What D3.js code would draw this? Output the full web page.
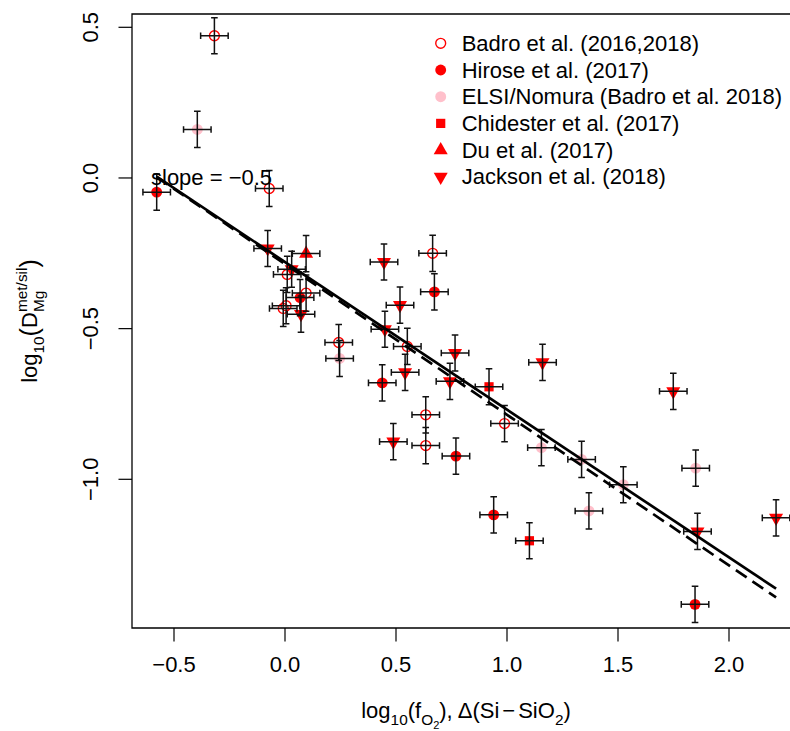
<!DOCTYPE html>
<html>
<head>
<meta charset="utf-8">
<script src="https://cdn.jsdelivr.net/npm/d3@7"></script>
<style>
body{margin:0;background:#fff;}
svg{display:block;}
text{font-family:"Liberation Sans",Arial,Helvetica,sans-serif;fill:#000;}
</style>
</head>
<body>
<div id="chart"></div>
<script>
// values (log10 fO2 / delta IW, log10 D_Mg)
var badroX = [-0.318, -0.071, 0.010, 0.095, 0.005, -0.008, 0.242, 0.665, 0.551, 0.634, 0.989, 0.634];
var badroY = [0.472, -0.035, -0.320, -0.382, -0.424, -0.433, -0.546, -0.250, -0.559, -0.786, -0.815, -0.888];
var hiroseX = [-0.578, 0.068, 0.673, 0.438, 0.770, 0.940, 1.847];
var hiroseY = [-0.047, -0.397, -0.378, -0.680, -0.923, -1.118, -1.415];
var elsiX = [-0.395, 0.246, 1.155, 1.336, 1.369, 1.524, 1.850];
var elsiY = [0.161, -0.599, -0.895, -0.934, -1.105, -1.018, -0.963];
var chidX = [0.919, 1.101];
var chidY = [-0.693, -1.204];
var duX = [0.095];
var duY = [-0.251];
var jacksonX = [-0.078, 0.030, 0.072, 0.446, 0.518, 0.450, 0.766, 0.541, 0.743, 1.160, 0.488, 1.749, 1.858, 2.212];
var jacksonY = [-0.234, -0.303, -0.452, -0.279, -0.422, -0.502, -0.581, -0.645, -0.675, -0.612, -0.875, -0.708, -1.173, -1.128];

var errX = 0.062, errY = 0.06;

// fitted line (solid) and fixed slope line (dashed)
var fitLine = {a: -0.279, b: -0.49};
var fixedLine = {a: -0.286, b: -0.5};

var xTicks = [-0.5, 0.0, 0.5, 1.0, 1.5, 2.0];
var yTicks = [0.5, 0.0, -0.5, -1.0];

var legendLabels = ["Badro et al. (2016,2018)", "Hirose et al. (2017)", "ELSI/Nomura (Badro et al. 2018)",
                    "Chidester et al. (2017)", "Du et al. (2017)", "Jackson et al. (2018)"];

var width = 790, height = 731;
var box = {left:132, top:14, bottom:628, right:800};
var fs = 22;
var sz = 5.2; // symbol base size

var svg = d3.select("#chart").append("svg").attr("width",width).attr("height",height);

var x = d3.scaleLinear().domain([-0.5, 2.0]).range([174, 729]);
var y = d3.scaleLinear().domain([0.5, -1.0]).range([27.3, 479.3]);

function fmt(v){ return d3.format(".1f")(v).replace("-", "\u2212"); }

// symbol paths (R style pch shapes)
function triUp(s){
    var r = 1.555*s, xc = 1.347*s, yc = 0.778*s;
    return "M0,"+(-r)+"L"+xc+","+yc+"L"+(-xc)+","+yc+"Z";
}
function triDown(s){
    var r = 1.555*s, xc = 1.347*s, yc = 0.778*s;
    return "M0,"+r+"L"+xc+","+(-yc)+"L"+(-xc)+","+(-yc)+"Z";
}
function drawSym(g, type, cx, cy){
    if(type=="open"){
        g.append("circle").attr("cx",cx).attr("cy",cy).attr("r",sz*0.95).attr("fill","none").attr("stroke","red").attr("stroke-width",1.4);
    } else if(type=="filled"){
        g.append("circle").attr("cx",cx).attr("cy",cy).attr("r",sz*1.05).attr("fill","red");
    } else if(type=="pink"){
        g.append("circle").attr("cx",cx).attr("cy",cy).attr("r",sz*1.05).attr("fill","pink");
    } else if(type=="square"){
        var h = 0.886*sz;
        g.append("rect").attr("x",cx-h).attr("y",cy-h).attr("width",2*h).attr("height",2*h).attr("fill","red");
    } else if(type=="up"){
        g.append("path").attr("d",triUp(sz)).attr("transform","translate("+cx+","+cy+")").attr("fill","red");
    } else if(type=="down"){
        g.append("path").attr("d",triDown(sz)).attr("transform","translate("+cx+","+cy+")").attr("fill","red");
    }
}

var series = [
    {xs:badroX, ys:badroY, type:"open"},
    {xs:hiroseX, ys:hiroseY, type:"filled"},
    {xs:elsiX, ys:elsiY, type:"pink"},
    {xs:chidX, ys:chidY, type:"square"},
    {xs:duX, ys:duY, type:"up"},
    {xs:jacksonX, ys:jacksonY, type:"down"}
];

// frame
svg.append("path")
    .attr("d","M"+box.right+","+box.top+"H"+box.left+"V"+box.bottom+"H"+box.right)
    .attr("fill","none").attr("stroke","#000").attr("stroke-width",1.3);

// x axis
var xa = svg.append("g").attr("class","x-axis");
xTicks.forEach(function(t){
    xa.append("line").attr("x1",x(t)).attr("x2",x(t)).attr("y1",box.bottom).attr("y2",box.bottom+13.5)
        .attr("stroke","#000").attr("stroke-width",1.2);
    xa.append("text").attr("x",x(t)).attr("y",672).attr("text-anchor","middle").attr("font-size",fs).text(fmt(t));
});
// y axis
var ya = svg.append("g").attr("class","y-axis");
yTicks.forEach(function(t){
    ya.append("line").attr("x1",box.left).attr("x2",box.left-13.5).attr("y1",y(t)).attr("y2",y(t))
        .attr("stroke","#000").attr("stroke-width",1.2);
    ya.append("text").attr("transform","translate(98,"+y(t)+") rotate(-90)").attr("text-anchor","middle")
        .attr("font-size",fs).text(fmt(t));
});

// points
var pts = svg.append("g").attr("class","points");
series.forEach(function(s){
    s.xs.forEach(function(v,i){ drawSym(pts, s.type, x(v), y(s.ys[i])); });
});

// error bars
var eb = svg.append("g").attr("class","errbars").attr("stroke","#111").attr("stroke-width",1.5).attr("fill","none");
var cap = 3.3;
series.forEach(function(s){
    s.xs.forEach(function(v,i){
        var cx = x(v), cy = y(s.ys[i]);
        var x0 = x(v-errX), x1 = x(v+errX), y0 = y(s.ys[i]+errY), y1 = y(s.ys[i]-errY);
        eb.append("path").attr("d",
            "M"+x0+","+cy+"H"+x1+
            "M"+x0+","+(cy-cap)+"V"+(cy+cap)+
            "M"+x1+","+(cy-cap)+"V"+(cy+cap)+
            "M"+cx+","+y0+"V"+y1+
            "M"+(cx-cap)+","+y0+"H"+(cx+cap)+
            "M"+(cx-cap)+","+y1+"H"+(cx+cap));
    });
});

// regression lines over the data range
var allX = [].concat(badroX, hiroseX, elsiX, chidX, duX, jacksonX);
var xmin = d3.min(allX), xmax = d3.max(allX);
var line = d3.line().x(function(d){return x(d[0]);}).y(function(d){return y(d[1]);});
svg.append("path").datum([[xmin, fitLine.a+fitLine.b*xmin],[xmax, fitLine.a+fitLine.b*xmax]])
    .attr("d",line).attr("stroke","#000").attr("stroke-width",2.7).attr("fill","none");
svg.append("path").datum([[xmin, fixedLine.a+fixedLine.b*xmin],[xmax, fixedLine.a+fixedLine.b*xmax]])
    .attr("d",line).attr("stroke","#000").attr("stroke-width",2.7).attr("fill","none").attr("stroke-dasharray","13,7");

svg.append("text").attr("x",151).attr("y",185).attr("font-size",fs).text("slope = \u22120.5");

// legend
var leg = svg.append("g").attr("class","legend");
var legTypes = ["open","filled","pink","square","up","down"];
legendLabels.forEach(function(lab,i){
    var ly = 43.3 + i*26.7;
    drawSym(leg, legTypes[i], 440.7, ly);
    leg.append("text").attr("x",461.7).attr("y",ly+7.5).attr("font-size",fs).text(lab);
});

// plotmath-like labels
function mathLabel(g, parts, size){
    var cx = 0;
    parts.forEach(function(p){
        if(p.stack){
            var wmax = 0;
            p.stack.forEach(function(q){
                var t = g.append("text").attr("x",cx).attr("y",(q.dy||0)*size).attr("font-size",size*(q.scale||1)).text(q.t);
                wmax = Math.max(wmax, t.node().getComputedTextLength());
            });
            cx += wmax;
        } else {
            var t = g.append("text").attr("x",cx).attr("y",(p.dy||0)*size).attr("font-size",size*(p.scale||1)).text(p.t);
            cx += t.node().getComputedTextLength() + (p.gap||0);
        }
    });
    g.selectAll("text").attr("x",function(){ return +d3.select(this).attr("x") - cx/2; });
}

var xt = svg.append("g").attr("transform","translate(466,718)");
mathLabel(xt, [
    {t:"log"}, {t:"10", scale:0.7, dy:0.3}, {t:"(f"}, {t:"O", scale:0.7, dy:0.3}, {t:"2", scale:0.5, dy:0.5},
    {t:")"}, {t:",", gap:5}, {t:"\u0394(Si", gap:3}, {t:"\u2212", gap:3}, {t:"SiO"}, {t:"2", scale:0.7, dy:0.3}, {t:")"}
], fs);

var yt = svg.append("g").attr("transform","translate(37,321) rotate(-90)");
mathLabel(yt, [
    {t:"log"}, {t:"10", scale:0.7, dy:0.3}, {t:"(", scale:1.15, dy:0.03}, {t:"D"},
    {stack:[{t:"met/sil", scale:0.7, dy:-0.45},{t:"Mg", scale:0.7, dy:0.3}]},
    {t:")", scale:1.15, dy:0.03}
], fs);
</script>
</body>
</html>
